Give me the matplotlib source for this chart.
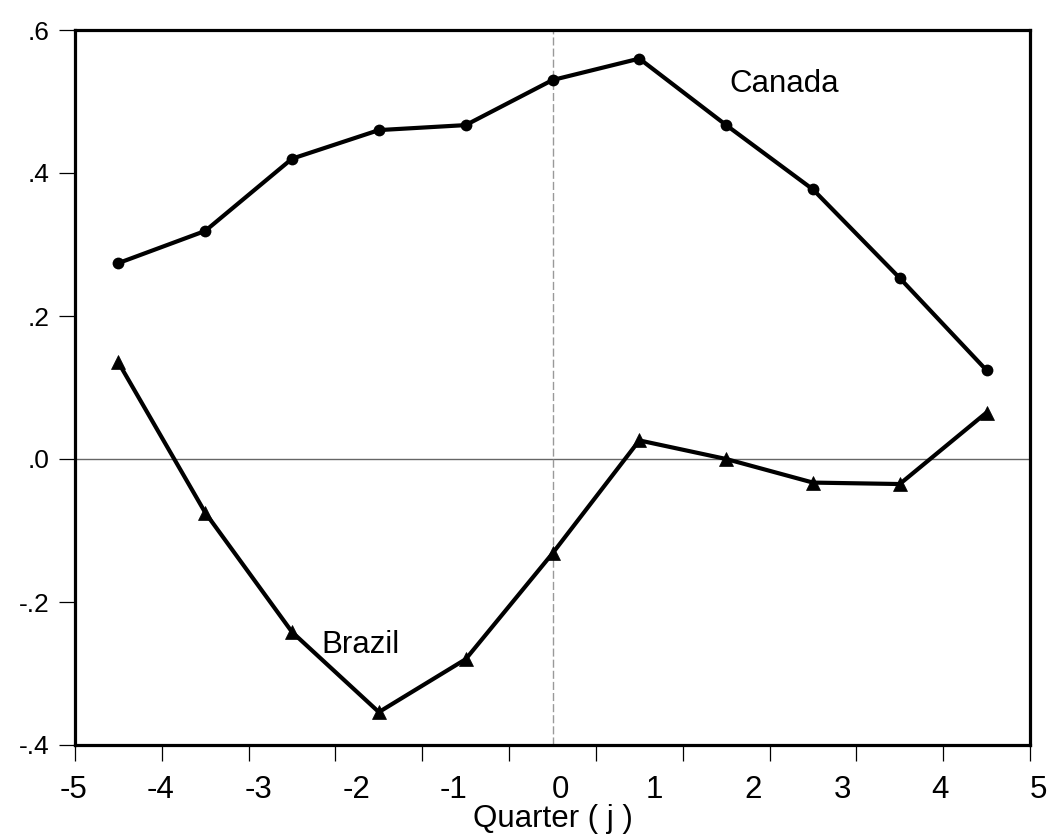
import matplotlib
matplotlib.use("Agg")
import matplotlib.pyplot as plt
import numpy as np

plt.rcParams['font.family'] = ['Liberation Sans', 'DejaVu Sans']

# ---- data ----
lags = [-5, -4, -3, -2, -1, 0, 1, 2, 3, 4, 5]
canada = [0.274, 0.319, 0.420, 0.460, 0.467, 0.530, 0.560, 0.467, 0.377, 0.253, 0.124]
brazil = [0.135, -0.075, -0.242, -0.354, -0.280, -0.132, 0.026, 0.000, -0.033, -0.035, 0.065]
y_ticks = [-0.4, -0.2, 0.0, 0.2, 0.4, 0.6]
y_ticklabels = ['-.4', '-.2', '.0', '.2', '.4', '.6']
x_ticklabels = ['-5', '-4', '-3', '-2', '-1', '0', '1', '2', '3', '4', '5']
x_title = 'Quarter ( j )'
series_names = ['Canada', 'Brazil']

# ---- layout ----
W, H = 1048, 835
fig = plt.figure(figsize=(W / 100, H / 100), dpi=100)
ax = fig.add_axes([75 / W, 1 - 745 / H, 955 / W, 715 / H])

x_lo, x_hi = lags[0] - 0.5, lags[-1] + 0.5
ax.set_xlim(x_lo, x_hi)
ax.set_ylim(-0.4, 0.6)

# reference lines
ax.axhline(0.0, color='#666666', lw=1.0, zorder=1)
ax.axvline(0.0, color='#999999', lw=1.0, dashes=(5.8, 2.2), zorder=1)

# series
ax.plot(lags, canada, color='black', lw=3.0, marker='o', markersize=8.5,
        markeredgewidth=0, zorder=3)
ax.plot(lags, brazil, color='black', lw=3.0, marker='^', markersize=10.5,
        markeredgewidth=0.5, zorder=3)

# frame
for sp in ax.spines.values():
    sp.set_linewidth(2.3)
    sp.set_color('black')

# ticks
ax.set_xticks(np.arange(x_lo, x_hi + 0.01, 1.0))
ax.set_xticklabels([])
ax.set_yticks(y_ticks)
ax.set_yticklabels(y_ticklabels, fontsize=19)
ax.tick_params(axis='both', direction='out', length=11.5, width=0.9, color='black')
ax.tick_params(axis='y', pad=7.0)

# x tick labels placed as in the reference
xlab_pos = [-5.517, -4.513, -3.386, -2.255, -1.146, 0.087, 1.169, 2.315, 3.340, 4.463, 5.592]
trans = ax.get_xaxis_transform()
for pos, lab in zip(xlab_pos, x_ticklabels):
    ax.text(pos, -0.0741, lab, transform=trans, ha='center', va='baseline',
            fontsize=22.5, clip_on=False)

ax.text(0.005, -0.1146, x_title, transform=trans, ha='center', va='baseline',
        fontsize=22.5, clip_on=False)

# series annotations
ax.text(2.033, 0.513, series_names[0], ha='left', va='baseline', fontsize=22.5)
ax.text(-2.659, -0.272, series_names[1], ha='left', va='baseline', fontsize=22.5)

fig.savefig('out.png', dpi=100)
